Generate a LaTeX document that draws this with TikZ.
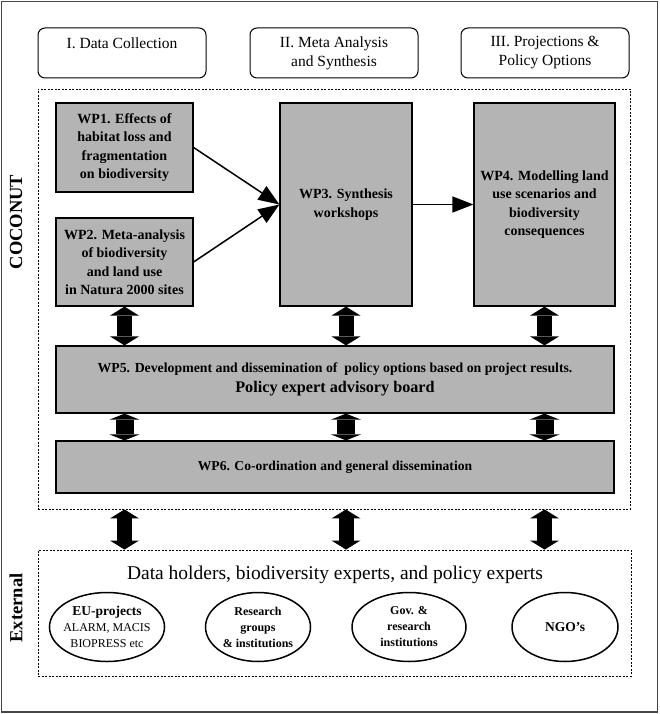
\documentclass[tikz,border=0pt]{standalone}
\usepackage{fontspec}
\setmainfont{Liberation Serif}
\usetikzlibrary{arrows.meta,shapes.geometric,calc}
\definecolor{wpgray}{RGB}{180,180,180}
\definecolor{framegray}{RGB}{70,70,70}
\begin{document}
\begin{tikzpicture}[x=1pt,y=-1pt,
  wp/.style={draw, line width=1.2pt, fill=wpgray, align=center, inner sep=0pt,
    font=\bfseries\fontsize{14}{18.5}\selectfont},
  phase/.style={draw, line width=1pt, rounded corners=7pt, minimum width=168pt,
    minimum height=50pt, align=center, inner sep=0pt, font=\fontsize{15.5}{19}\selectfont},
  dashbox/.style={draw, line width=0.9pt, dash pattern=on 2pt off 1.5pt, inner sep=0pt},
  org/.style={draw, ellipse, line width=1.5pt, minimum height=69pt, inner sep=-3pt,
    align=center, font=\bfseries\fontsize{12}{16}\selectfont},
  sidelabel/.style={rotate=90, font=\bfseries\fontsize{18.5}{20}\selectfont},
  flow/.style={line width=1.5pt, -{Triangle[length=21pt,width=16pt]}},
  bigflow/.style={line width=15pt,
    {Triangle[length=9pt,width=29pt,line width=0pt]}-{Triangle[length=9pt,width=29pt,line width=0pt]}},
  midflow/.style={line width=18pt,
    {Triangle[length=6pt,width=30pt,line width=0pt]}-{Triangle[length=6pt,width=30pt,line width=0pt]}},
]
\useasboundingbox (0,0) rectangle (660,714);
\draw[framegray, line width=1.5pt] (1.5,1.5) rectangle (657.5,712);

% phases
\node[phase] (ph1) at (122,53) {I. Data Collection\\\mbox{}};
\node[phase] (ph2) at (334,53) {II. Meta Analysis\\and Synthesis};
\node[phase] (ph3) at (545,53) {III. Projections \&\\Policy Options};

% COCONUT frame
\node[dashbox, minimum width=592pt, minimum height=420pt] (coco) at (334,299) {};
\node[sidelabel] (cocolabel) at (16,222) {COCONUT};

% work packages
\node[wp, minimum width=137pt, minimum height=89pt] (wp1) at (124.5,147.5)
  {WP1. Effects of\\habitat loss and\\fragmentation\\on biodiversity};
\node[wp, minimum width=137pt, minimum height=88pt] (wp2) at (124.5,262)
  {WP2. Meta-analysis\\of biodiversity\\and land use\\in Natura 2000 sites};
\node[wp, minimum width=132pt, minimum height=203pt] (wp3) at (346,204.5)
  {WP3. Synthesis\\workshops};
\node[wp, minimum width=141pt, minimum height=203pt] (wp4) at (544.5,204.5)
  {WP4. Modelling land\\use scenarios and\\biodiversity\\consequences};
\node[wp, minimum width=558pt, minimum height=67pt, font=\bfseries\fontsize{13.8}{20}\selectfont] (wp5) at (335,379.5)
  {WP5. Development and dissemination of\ \ policy options based on project results.\\{\fontsize{16.2}{20}\selectfont Policy expert advisory board}};
\node[wp, minimum width=558pt, minimum height=52pt, font=\bfseries\fontsize{13.6}{16}\selectfont] (wp6) at (335,467)
  {WP6. Co-ordination and general dissemination};

% External frame
\node[dashbox, minimum width=593pt, minimum height=126pt] (ext) at (334.5,613) {};
\node[sidelabel] (extlabel) at (16,608) {External};
\node[font=\fontsize{19.5}{22}\selectfont] (holders) at (335,575)
  {Data holders, biodiversity experts, and policy experts};

\node[org, minimum width=105pt] (eu) at (107,627)
  {{\fontsize{13.5}{15}\selectfont EU-projects}\\{\mdseries ALARM, MACIS}\\{\mdseries BIOPRESS etc}};
\node[org, minimum width=105pt] (res) at (258,627) {Research\\groups\\\& institutions};
\node[org, minimum width=114pt] (gov) at (409,627) {Gov. \&\\research\\institutions};
\node[org, minimum width=106pt, font=\bfseries\fontsize{13.5}{16}\selectfont] (ngo) at (565,627) {NGO's};

% flows
\draw[flow] (wp1.east) -- (wp3.west);
\draw[flow] (wp2.east) -- (wp3.west);
\draw[flow] (wp3.east) -- (wp4.west);

\foreach \n in {wp2,wp3,wp4} {
  \draw[bigflow] (\n.south) -- (\n.south |- wp5.north);
  \draw[midflow] (wp5.south -| \n.south) -- (wp6.north -| \n.south);
  \draw[bigflow] (coco.south -| \n.south) -- (ext.north -| \n.south);
}
\end{tikzpicture}
\end{document}
